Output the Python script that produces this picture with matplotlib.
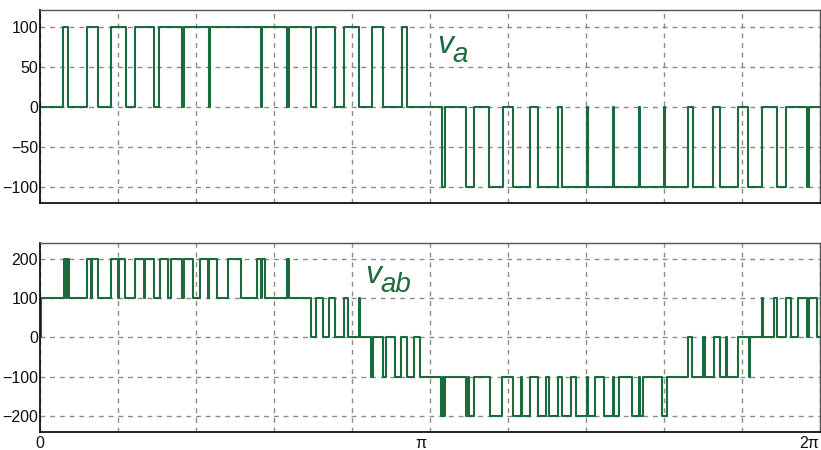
import matplotlib
matplotlib.use("Agg")
import matplotlib.pyplot as plt
import matplotlib.transforms as mtransforms
import numpy as np

# ---- data (switching angles in degrees, level after each edge) ----
va_angle = [0, 10.8, 13.1, 21.8, 26.9, 32.6, 39.7, 43.8, 52.8, 55.1, 65.7, 66.6,
            77.9, 78.3, 102.0, 102.5, 113.9, 114.8, 124.9, 127.4, 136.3, 140.3,
            147.4, 153.4, 158.4, 166.9, 169.2, 185.4, 186.9, 196.6, 200.3, 207.4,
            213.6, 218.5, 226.2, 230.0, 239.2, 241.1, 252.3, 252.8, 264.3, 264.8,
            276.3, 276.8, 288.1, 288.6, 299.2, 301.3, 310.8, 313.8, 322.2, 326.9,
            333.1, 340.3, 344.2, 353.9, 355.1, 360]
va_level = [0, 100, 0, 100, 0, 100, 0, 100, 0, 100, 0, 100,
            0, 100, 0, 100, 0, 100, 0, 100, 0, 100,
            0, 100, 0, 100, 0, -100, 0, -100, 0, -100,
            0, -100, 0, -100, 0, -100, 0, -100, 0, -100,
            0, -100, 0, -100, 0, -100, 0, -100, 0, -100,
            0, -100, 0, -100, 0, 0]

vab_angle = [0, 0.4, 11.1, 12.0, 12.6, 13.2, 21.8, 23.7, 24.0, 26.8, 32.9, 36.1,
             36.5, 39.4, 44.0, 48.0, 48.5, 52.5, 55.2, 59.2, 60.5, 65.7, 66.6,
             70.8, 73.7, 77.7, 78.1, 81.9, 86.7, 92.8, 100.3, 101.9, 102.3, 103.8,
             113.8, 114.8, 124.9, 127.5, 130.7, 133.2, 136.3, 140.1, 142.1, 147.1,
             147.7, 152.6, 153.5, 158.5, 159.7, 164.0, 166.8, 169.2, 172.8, 175.2,
             185.3, 185.8, 186.3, 186.8, 196.5, 197.7, 198.1, 200.2, 207.5, 213.4,
             218.4, 221.9, 222.4, 226.1, 229.8, 233.7, 234.8, 239.2, 240.7, 245.2,
             247.2, 252.3, 252.8, 256.3, 260.3, 264.3, 264.8, 267.4, 273.4, 276.3,
             276.8, 278.4, 286.9, 289.2, 299.2, 300.9, 305.8, 307.0, 311.1, 313.9,
             316.4, 317.0, 322.2, 327.4, 327.8, 333.0, 333.6, 338.7, 340.3, 344.1,
             346.6, 349.9, 353.8, 354.8, 358.8, 360]
vab_level = [0, 100, 200, 100, 200, 100, 200, 100, 200, 100, 200, 100,
             200, 100, 200, 100, 200, 100, 200, 100, 200, 100, 200,
             100, 200, 100, 200, 100, 200, 100, 200, 100, 200, 100,
             200, 100, 0, 100, 0, 100, 0, 100, 0, 100,
             0, -100, 0, -100, 0, -100, 0, -100, 0, -100,
             -200, -100, -200, -100, -200, -100, -200, -100, -200, -100,
             -200, -100, -200, -100, -200, -100, -200, -100, -200, -100,
             -200, -100, -200, -100, -200, -100, -200, -100, -200, -100,
             -200, -100, -200, -100, 0, -100, 0, -100, 0, -100,
             0, -100, 0, -100, 0, 100, 0, 100, 0, 100,
             0, 100, 0, 100, 0, 0]

va_ticks = [100, 50, 0, -50, -100]
vab_ticks = [200, 100, 0, -100, -200]
x_tick_pos = [0, 180, 360]
x_tick_lab = ["0", "\u03c0", "2\u03c0"]

LINE = "#1c6b3c"
GRID = "#8c8c8c"

plt.rcParams["font.family"] = ["Liberation Sans", "DejaVu Sans"]

fig = plt.figure(figsize=(8.21, 4.5), dpi=100)
ax1 = fig.add_axes([40 / 821, 1 - 203 / 450, 780 / 821, 193 / 450])
ax2 = fig.add_axes([40 / 821, 1 - 431.7 / 450, 780 / 821, 188.4 / 450])


def style(ax, yticks, ylim):
    ax.set_xlim(0, 360)
    ax.set_ylim(*ylim)
    ax.set_xticks(np.arange(0, 361, 36))
    ax.set_yticks(yticks)
    ax.grid(True, color=GRID, linestyle=(0, (3.5, 3.5)), linewidth=1.0)
    ax.tick_params(length=0, labelsize=11.5, pad=1.5, colors="#111111")
    for s in ("left", "bottom"):
        ax.spines[s].set_color("#111111")
        ax.spines[s].set_linewidth(1.3)
    for s in ("top", "right"):
        ax.spines[s].set_color("#555555")
        ax.spines[s].set_linewidth(1.0)


style(ax1, va_ticks, (-120, 121))
ax1.set_xticklabels([])
ax1.step(va_angle, va_level, where="post", color=LINE, linewidth=1.5)

style(ax2, vab_ticks, (-240, 239))
ax2.step(vab_angle, vab_level, where="post", color=LINE, linewidth=1.5)

# x labels: only 0, pi, 2pi
labels = []
for t in np.arange(0, 361, 36):
    if t in x_tick_pos:
        labels.append(x_tick_lab[x_tick_pos.index(t)])
    else:
        labels.append("")
ax2.set_xticklabels(labels)
ax2.tick_params(axis="x", pad=3)
shift = {"\u03c0": -9, "2\u03c0": -11}
for lab in ax2.get_xticklabels():
    if lab.get_text() in shift:
        lab.set_transform(lab.get_transform() +
                          mtransforms.ScaledTranslation(shift[lab.get_text()] / 100, 0,
                                                        fig.dpi_scale_trans))

# series labels
ax1.text(183.2, 67, "v", fontsize=23, style="italic", color=LINE)
ax1.text(190.5, 56, "a", fontsize=20, style="italic", color=LINE)
ax2.text(150.0, 138, "v", fontsize=23, style="italic", color=LINE)
ax2.text(157.0, 115, "ab", fontsize=20, style="italic", color=LINE)

fig.savefig("out.png", dpi=100)
